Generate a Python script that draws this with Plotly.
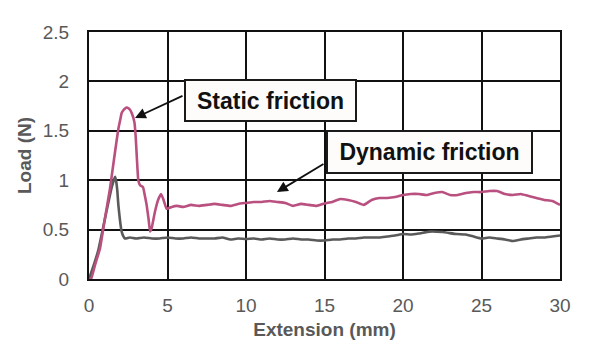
import plotly.graph_objects as go

# Static/dynamic friction test (pink)
x_pink = [0, 0.13, 0.4, 0.7, 1.0, 1.34, 1.6, 1.87, 2.0, 2.08, 2.2, 2.3, 2.4, 2.5, 2.6, 2.72, 2.89,
          2.97, 3.05, 3.14, 3.25, 3.44, 3.55, 3.67, 3.8, 3.89, 4.0, 4.2, 4.4, 4.59, 4.75, 4.95, 5.27,
          5.6, 6.0, 6.5, 7.0, 7.5, 8.0, 8.5, 9.0, 9.5, 10.0, 10.5, 11.0, 11.5, 12.0, 12.5, 13.0, 13.5,
          14.0, 14.5, 15.0, 15.5, 16.0, 16.5, 17.0, 17.5, 18.0, 18.5, 19.0, 19.5, 20.0, 20.5, 21.0,
          21.5, 22.0, 22.5, 23.0, 23.5, 24.0, 24.5, 25.0, 25.5, 26.0, 26.5, 27.0, 27.5, 28.0, 28.5,
          29.0, 29.5, 30.0]
y_pink = [0, 0, 0.15, 0.31, 0.6, 0.92, 1.22, 1.52, 1.62, 1.68, 1.71, 1.725, 1.735, 1.73, 1.715,
          1.68, 1.59, 1.45, 1.22, 1.0, 0.95, 0.93, 0.85, 0.75, 0.6, 0.48, 0.52, 0.68, 0.8, 0.86, 0.8,
          0.71, 0.73, 0.74, 0.73, 0.75, 0.74, 0.75, 0.76, 0.75, 0.74, 0.76, 0.77, 0.78, 0.78, 0.79,
          0.78, 0.77, 0.74, 0.76, 0.75, 0.74, 0.765, 0.78, 0.81, 0.80, 0.78, 0.75, 0.80, 0.82, 0.82,
          0.83, 0.85, 0.86, 0.86, 0.85, 0.87, 0.88, 0.85, 0.85, 0.87, 0.88, 0.88, 0.89, 0.89, 0.86,
          0.85, 0.86, 0.84, 0.82, 0.80, 0.79, 0.75]

# Second test (gray)
x_gray = [0, 0.3, 0.59, 0.9, 1.2, 1.45, 1.6, 1.66, 1.72, 1.8, 1.87, 2.08, 2.2, 2.29, 2.6, 3.0, 3.5,
          4.0, 4.5, 5.0, 5.5, 6.0, 6.5, 7.0, 7.5, 8.0, 8.5, 9.0, 9.5, 10.0, 10.5, 11.0, 11.5, 12.0,
          12.5, 13.0, 13.5, 14.0, 14.5, 15.0, 15.5, 16.0, 16.5, 17.0, 17.5, 18.0, 18.5, 19.0, 19.5,
          20.0, 20.5, 21.0, 21.7, 22.5, 23.4, 24.0, 24.5, 25.0, 25.5, 26.0, 26.5, 27.0, 27.5, 28.0,
          28.5, 29.0, 29.5, 30.0]
y_gray = [0, 0.14, 0.29, 0.52, 0.75, 0.93, 1.01, 1.035, 1.0, 0.9, 0.75, 0.48, 0.43, 0.41, 0.42,
          0.41, 0.42, 0.41, 0.41, 0.42, 0.41, 0.41, 0.42, 0.41, 0.41, 0.41, 0.42, 0.40, 0.41, 0.405,
          0.41, 0.40, 0.41, 0.40, 0.40, 0.41, 0.40, 0.40, 0.39, 0.39, 0.40, 0.40, 0.41, 0.41, 0.42,
          0.42, 0.42, 0.43, 0.44, 0.455, 0.45, 0.46, 0.48, 0.475, 0.455, 0.45, 0.43, 0.41, 0.42,
          0.41, 0.40, 0.385, 0.40, 0.41, 0.42, 0.42, 0.43, 0.44]

x_ticks = [0, 5, 10, 15, 20, 25, 30]
y_ticks = [0, 0.5, 1, 1.5, 2, 2.5]
y_tick_text = ["0", "0.5", "1", "1.5", "2", "2.5"]

labels = ["Static friction", "Dynamic friction"]

FONT = "Liberation Sans, Arial, sans-serif"
GRAY = "#595959"

fig = go.Figure()
fig.add_trace(go.Scatter(x=x_gray, y=y_gray, mode="lines",
                         line=dict(color="#5a5a5a", width=2.6, shape="spline", smoothing=0.4),
                         hoverinfo="skip"))
fig.add_trace(go.Scatter(x=x_pink, y=y_pink, mode="lines",
                         line=dict(color="#b9507f", width=2.6, shape="spline", smoothing=0.4),
                         hoverinfo="skip"))

# Labels with boxes
fig.add_annotation(x=11.59, y=1.81, xref="x", yref="y", text="<b>" + labels[0] + "</b>",
                   showarrow=False, font=dict(family=FONT, size=23, color="#111111"),
                   bgcolor="#fdfcfa", bordercolor="#1a1a1a", borderwidth=2, borderpad=0,
                   width=169, height=39)
fig.add_annotation(x=21.69, y=1.285, xref="x", yref="y", text="<b>" + labels[1] + "</b>",
                   showarrow=False, font=dict(family=FONT, size=23, color="#111111"),
                   bgcolor="#fdfcfa", bordercolor="#1a1a1a", borderwidth=2, borderpad=0,
                   width=203, height=40)

# Arrows
fig.add_annotation(x=2.93, y=1.63, ax=6.05, ay=1.86, xref="x", yref="y", axref="x", ayref="y",
                   text="", showarrow=True, arrowhead=2, arrowsize=1.2, arrowwidth=1.8,
                   arrowcolor="#111111")
fig.add_annotation(x=11.97, y=0.88, ax=15.03, ay=1.174, xref="x", yref="y", axref="x", ayref="y",
                   text="", showarrow=True, arrowhead=2, arrowsize=1.2, arrowwidth=1.8,
                   arrowcolor="#111111")

fig.update_layout(
    width=599, height=354,
    margin=dict(l=89, r=39, t=32, b=75),
    paper_bgcolor="white", plot_bgcolor="white",
    showlegend=False,
    font=dict(family=FONT, color=GRAY),
)
fig.update_xaxes(range=[0, 30], tickvals=x_ticks, showgrid=True, gridcolor="#111111", gridwidth=2,
                 showline=True, linecolor="#111111", linewidth=2, mirror=True, zeroline=False,
                 ticks="outside", ticklen=8, tickcolor="rgba(0,0,0,0)",
                 tickfont=dict(size=19, color=GRAY, family=FONT),
                 title=dict(text="<b>Extension (mm)</b>", font=dict(size=19, color=GRAY, family=FONT),
                            standoff=8))
fig.update_yaxes(range=[0, 2.5], tickvals=y_ticks, ticktext=y_tick_text, showgrid=True,
                 gridcolor="#111111", gridwidth=2,
                 showline=True, linecolor="#111111", linewidth=2, mirror=True, zeroline=False,
                 ticks="outside", ticklen=14, tickcolor="rgba(0,0,0,0)",
                 tickfont=dict(size=19, color=GRAY, family=FONT),
                 title=dict(text="<b>Load (N)</b>", font=dict(size=19, color=GRAY, family=FONT),
                            standoff=6))

fig.write_html("out.html")
